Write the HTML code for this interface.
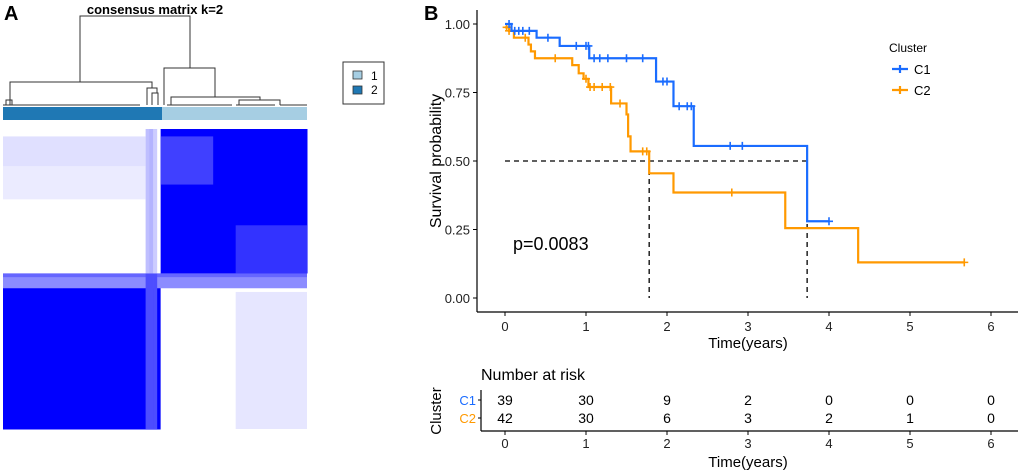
<!DOCTYPE html>
<html><head><meta charset="utf-8"><style>
body{margin:0;background:#fff;}
svg{display:block;font-family:"Liberation Sans",sans-serif;}
</style></head><body>
<svg id="fig" width="1020" height="474" viewBox="0 0 1020 474" xmlns="http://www.w3.org/2000/svg">
<rect width="1020" height="474" fill="#fff"/>
<g id="panelA">
<text x="4" y="20" font-size="20" font-weight="bold">A</text>
<text x="155" y="14" font-size="13" font-weight="bold" text-anchor="middle">consensus matrix k=2</text>
<g id="dendro" stroke="#333" stroke-width="1" fill="none">
<path d="M80,82 V16 H190 V68"/>
<path d="M10,105 V82 H152 V88"/>
<path d="M6,105 V100 H12 V105"/>
<path d="M147,105 V88 H157 V93"/>
<path d="M152,105 V93 H158 V105"/>
<path d="M164,105 V68 H215 V97"/>
<path d="M171,105 V97 H260 V100"/>
<path d="M239,105 V100 H280 V105"/>
<path d="M3,105 H140 M167,105 H232 M236,105 H275 M280,105 H307"/>
</g>
<rect x="3" y="107" width="159" height="13" fill="#1f78b4"/>
<rect x="162" y="107" width="145" height="13" fill="#a6cee3"/>
<g id="heat"></g>
<g>
<rect x="343" y="62" width="41" height="42" fill="#fff" stroke="#333" stroke-width="1"/>
<rect x="353" y="71" width="9" height="8" fill="#a6cee3" stroke="#333" stroke-width="0.8"/>
<rect x="353" y="86" width="9" height="8" fill="#1f78b4" stroke="#333" stroke-width="0.8"/>
<text x="371" y="80" font-size="12">1</text>
<text x="371" y="94" font-size="12">2</text>
</g>
</g>
<g id="panelB">
<text x="424" y="20" font-size="20" font-weight="bold">B</text>
<g id="km"></g>
</g>
</svg>
<script>
// ---- heatmap data ----
const colGroups = [42, 39];           // columns: cluster 2, cluster 1
const rowGroups = [39, 42];           // rows: cluster 1, cluster 2
const blockValues = [[0.0, 1.0],[1.0, 0.0]];
const noisyCols = [38,39,40];
const noisyVal = [0.25, 0.3, 0.2];
// light patches: [colStart, colEnd, rowStart, rowEnd, value]
const patches = [[0,37,2,10,0.12],[0,37,10,18,0.08],[42,55,2,14,0.75],[62,80,26,38,0.8],[62,80,44,80,0.1],[0,80,39,40,0.6],[0,80,40,42,0.45]];

// ---- KM data ----
const c1Times = [0, 0.08, 0.39, 0.675, 1.04, 1.865, 2.08, 2.33, 3.73, 4.0];
const c1Surv  = [1.0, 0.975, 0.95, 0.92, 0.875, 0.79, 0.70, 0.555, 0.28, 0.28];
const c1CensT = [0.05,0.12,0.17,0.22,0.3,0.53,0.88,1.0,1.03,1.1,1.17,1.27,1.5,1.7,1.95,2.0,2.15,2.25,2.3,2.78,2.93,4.0];
const c2Times = [0, 0.05, 0.11, 0.29, 0.32, 0.37, 0.83, 0.91, 0.97, 1.03, 1.31, 1.5, 1.52, 1.55, 1.78, 2.08, 3.46, 4.36, 5.67];
const c2Surv  = [0.988, 0.975, 0.95, 0.925, 0.90, 0.875, 0.85, 0.82, 0.80, 0.77, 0.71, 0.67, 0.59, 0.535, 0.455, 0.385, 0.255, 0.13, 0.13];
const c2CensT = [0.02,0.05,0.25,0.62,1.0,1.05,1.1,1.2,1.3,1.42,1.7,1.75,2.8,5.67];
const medians = [1.78, 3.73];
const xTicks = [0,1,2,3,4,5,6];
const yTicks = [0, 0.25, 0.5, 0.75, 1.0];
const yTickLabels = ["0.00","0.25","0.50","0.75","1.00"];
const riskC1 = [39,30,9,2,0,0,0];
const riskC2 = [42,30,6,3,2,1,0];
const pText = "p=0.0083";

const NS="http://www.w3.org/2000/svg";
function mk(tag, attrs, parent){const e=document.createElementNS(NS,tag);for(const k in attrs)e.setAttribute(k,attrs[k]);parent.appendChild(e);return e;}

// heatmap
const heat=document.getElementById('heat');
const hx0=3,hx1=307,hy0=129,hy1=429;
const nC=colGroups[0]+colGroups[1], nR=rowGroups[0]+rowGroups[1];
const cw=(hx1-hx0)/nC, rh=(hy1-hy0)/nR;
function blue(v){const a=Math.max(0,Math.min(1,v));const c=Math.round(255*(1-a));return `rgb(${c},${c},255)`;}
for(let i=0;i<2;i++){for(let j=0;j<2;j++){
  const cs=j===0?0:colGroups[0], rs=i===0?0:rowGroups[0];
  const r=mk('rect',{x:hx0+cs*cw,y:hy0+rs*rh,width:colGroups[j]*cw+0.5,height:rowGroups[i]*rh+0.5,fill:blue(blockValues[i][j])},heat);
  
  
}}
patches.forEach(p=>{
  const r=mk('rect',{x:hx0+p[0]*cw,y:hy0+p[2]*rh,width:(p[1]-p[0]+1)*cw,height:(p[3]-p[2]+1)*rh,fill:blue(p[4])},heat);
  
  
});
noisyCols.forEach((c,k)=>{
  const r=mk('rect',{x:hx0+c*cw,y:hy0,width:cw+0.3,height:rowGroups[0]*rh,fill:blue(noisyVal[k])},heat);
  
  
  const r2=mk('rect',{x:hx0+c*cw,y:hy0+rowGroups[0]*rh,width:cw+0.3,height:rowGroups[1]*rh,fill:blue(0.7)},heat);
  
  
});

// KM
const km=document.getElementById('km');
const X=t=>505+t*81, Y=s=>298-s*274;
const RX=t=>505+t*81;
mk('line',{x1:477,y1:10,x2:477,y2:312,stroke:'#000','stroke-width':1.2},km);
mk('line',{x1:477,y1:312,x2:1018,y2:312,stroke:'#000','stroke-width':1.2},km);
yTicks.forEach((v,i)=>{
  mk('line',{x1:473,y1:Y(v),x2:477,y2:Y(v),stroke:'#000'},km);
  const t=mk('text',{x:470,y:Y(v)+5,'font-size':13,'text-anchor':'end',fill:'#222'},km);t.textContent=yTickLabels[i];
  
  
});
xTicks.forEach(v=>{
  mk('line',{x1:X(v),y1:312,x2:X(v),y2:316,stroke:'#000'},km);
  const t=mk('text',{x:X(v),y:331,'font-size':13,'text-anchor':'middle',fill:'#222'},km);t.textContent=v;
  
  
});
let tt=mk('text',{x:748,y:348,'font-size':15,'text-anchor':'middle'},km);tt.textContent='Time(years)';


tt=mk('text',{x:0,y:0,'font-size':16,'text-anchor':'middle',transform:'translate(441,161) rotate(-90)'},km);tt.textContent='Survival probability';


let d=`M${X(0)},${Y(0.5)} H${X(medians[1])}`;
medians.forEach(m=>{d+=` M${X(m)},${Y(0.5)} V${Y(0)}`;});
const ml=mk('path',{d:d,stroke:'#000','stroke-width':1.3,'stroke-dasharray':'5,4',fill:'none'},km);


function stepPath(ts,ss){let p=`M${X(ts[0])},${Y(ss[0])}`;for(let i=1;i<ts.length;i++){p+=` H${X(ts[i])} V${Y(ss[i])}`;}return p;}
function survAt(ts,ss,t){let s=ss[0];for(let i=0;i<ts.length;i++){if(ts[i]<=t)s=ss[i];}return s;}
function drawCurve(ts,ss,cens,col,name){
  const p=mk('path',{d:stepPath(ts,ss),stroke:col,'stroke-width':2.2,fill:'none'},km);
  
  
  cens.forEach(c=>{const x=X(c),y=Y(survAt(ts,ss,c));
    const m=mk('path',{d:`M${x-4},${y} H${x+4} M${x},${y-4} V${y+4}`,stroke:col,'stroke-width':1.6},km);
    
    
  });
}
drawCurve(c2Times,c2Surv,c2CensT,'#ff9900','c2');
drawCurve(c1Times,c1Surv,c1CensT,'#1a6cff','c1');
tt=mk('text',{x:513,y:250,'font-size':18},km);tt.textContent=pText;


const lg=mk('g',{},km);


tt=mk('text',{x:889,y:52,'font-size':12},lg);tt.textContent='Cluster';
[['#1a6cff','C1',69],['#ff9900','C2',90]].forEach(a=>{
  mk('path',{d:`M892,${a[2]} H908 M900,${a[2]-4} V${a[2]+4}`,stroke:a[0],'stroke-width':2.2},lg);
  const t=mk('text',{x:914,y:a[2]+5,'font-size':13},lg);t.textContent=a[1];
});
tt=mk('text',{x:481,y:380,'font-size':16},km);tt.textContent='Number at risk';


mk('line',{x1:481,y1:390,x2:481,y2:431,stroke:'#000','stroke-width':1.2},km);
mk('line',{x1:481,y1:431,x2:1018,y2:431,stroke:'#000','stroke-width':1.2},km);
[[riskC1,405,'#1a6cff','C1'],[riskC2,423,'#ff9900','C2']].forEach(r=>{
  mk('line',{x1:478,y1:r[1]-5,x2:481,y2:r[1]-5,stroke:'#000'},km);
  const lab=mk('text',{x:476,y:r[1],'font-size':13,'text-anchor':'end',fill:r[2]},km);lab.textContent=r[3];
  
  
  r[0].forEach((v,i)=>{const t=mk('text',{x:RX(xTicks[i]),y:r[1],'font-size':14,'text-anchor':'middle'},km);t.textContent=v;
    
    });
});
xTicks.forEach(v=>{
  mk('line',{x1:RX(v),y1:431,x2:RX(v),y2:435,stroke:'#000'},km);
  const t=mk('text',{x:RX(v),y:448,'font-size':13,'text-anchor':'middle',fill:'#222'},km);t.textContent=v;
  
  
});
tt=mk('text',{x:748,y:467,'font-size':15,'text-anchor':'middle'},km);tt.textContent='Time(years)';


tt=mk('text',{x:0,y:0,'font-size':15,'text-anchor':'middle',transform:'translate(441,411) rotate(-90)'},km);tt.textContent='Cluster';


</script>
</body></html>
